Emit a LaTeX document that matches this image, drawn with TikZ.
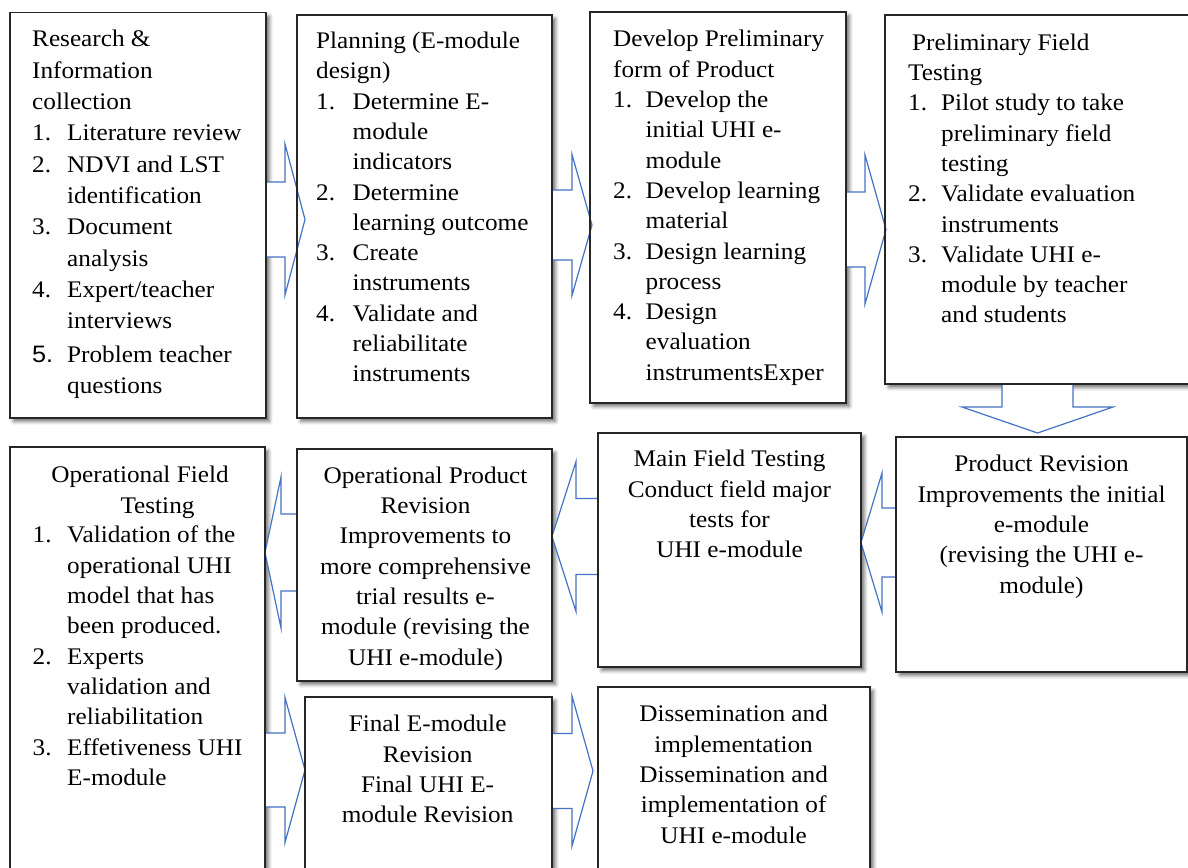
\documentclass[tikz,border=0pt]{standalone}
\usepackage{fontspec}
\setmainfont{Liberation Serif}[FakeStretch=1.06]
\newfontfamily\sansfive{Liberation Sans}[FakeStretch=1.06]
\usetikzlibrary{shadows.blur,calc}
\definecolor{arrowblue}{HTML}{4472C4}
\definecolor{boxline}{HTML}{262626}
\newcommand\itm[3][35pt]{\strut\makebox[#1][l]{#2}#3}
\newcommand\cnt[2][35pt]{\strut\hspace*{#1}#2}
% horizontal block arrow: from, to, tip offset, neck x, centre y, shaft half, head half
\newcommand\harrow[7]{%
  \filldraw[blockarrow] let \p1=(#1), \p2=(#2) in
    (\x1,{-(#5-#6)*1pt}) -- (#4pt,{-(#5-#6)*1pt}) -- (#4pt,{-(#5-#7)*1pt})
    -- ({\x2+#3pt},{-#5*1pt}) -- (#4pt,{-(#5+#7)*1pt}) -- (#4pt,{-(#5+#6)*1pt})
    -- (\x1,{-(#5+#6)*1pt});}
% vertical block arrow: from, to, tip offset, neck y, centre x, shaft half, head half
\newcommand\varrow[7]{%
  \filldraw[blockarrow] let \p1=(#1), \p2=(#2) in
    ({(#5-#6)*1pt},\y1) -- ({(#5-#6)*1pt},{-#4*1pt}) -- ({(#5-#7)*1pt},{-#4*1pt})
    -- ({#5*1pt},{\y2+#3pt}) -- ({(#5+#7)*1pt},{-#4*1pt}) -- ({(#5+#6)*1pt},{-#4*1pt})
    -- ({(#5+#6)*1pt},\y1);}
\begin{document}
\begin{tikzpicture}[x=1pt,y=-1pt,
  box/.style={draw=boxline, line width=1.6pt, fill=white, anchor=north west,
    inner sep=0pt, outer sep=0pt,
    blur shadow={shadow xshift=3.5pt, shadow yshift=-3.5pt, shadow blur radius=3.5pt, shadow opacity=55}},
  boxedge/.style={draw=boxline, line width=1.6pt},
  blockarrow/.style={draw=arrowblue, line width=1.2pt, fill=white, line join=miter},
  txtL/.style={anchor=north west, inner sep=0pt, align=left, font=\fontsize{23.8}{30.3}\selectfont},
  txtC/.style={anchor=north, inner sep=0pt, align=center, font=\fontsize{23.8}{30.3}\selectfont},
]
\useasboundingbox (0,0) rectangle (1188,867);

% ---------- boxes ----------
\node[box, minimum width=256pt, minimum height=405.5pt] (b1) at (10,12.5) {};
\node[box, minimum width=255pt, minimum height=403pt] (b2) at (297,15) {};
\node[box, minimum width=256pt, minimum height=391pt] (b3) at (590,12) {};
\node[box, minimum width=310pt, minimum height=369pt] (b4) at (885,15) {};
\node[box, minimum width=291pt, minimum height=235pt] (pr) at (896,437) {};
\node[box, minimum width=263pt, minimum height=234pt] (mft) at (598,433) {};
\node[box, minimum width=255pt, minimum height=232pt] (opr) at (297,449) {};
\node[box, minimum width=255pt, minimum height=440pt] (oft) at (10,447) {};
\node[box, minimum width=247pt, minimum height=200pt] (fin) at (305,697) {};
\node[box, minimum width=272pt, minimum height=200pt] (dis) at (598,687) {};

% ---------- block arrows ----------
\harrow{b1.east}{b2.west}{8}{285}{219.5}{37.5}{75.5}
\harrow{b2.east}{b3.west}{2}{572}{225}{35}{70.5}
\harrow{b3.east}{b4.west}{1}{865}{229.5}{37.5}{74.5}
\varrow{b4.south}{pr.north}{4}{407}{1037.5}{35.5}{75.5}
\harrow{pr.west}{mft.east}{0}{882}{542.5}{34.5}{69.5}
\harrow{mft.west}{opr.east}{0}{576}{536.5}{38}{75}
\harrow{opr.west}{oft.east}{0}{281}{552.5}{38.5}{75.5}
\harrow{oft.east}{fin.west}{0}{285}{770}{37}{72.5}
\harrow{fin.east}{dis.west}{-5}{572}{771}{37.5}{75}

% ---------- box borders on top ----------
\foreach \n in {b1,b2,b3,b4,pr,mft,opr,oft,fin,dis}
  \draw[boxedge] (\n.north west) rectangle (\n.south east);

% ---------- texts ----------
\node[txtL, font=\fontsize{23.8}{31.3}\selectfont] (t1) at (32,24.8) {%
\strut Research \&\\
\strut Information\\
\strut collection\\
\itm{1.}{Literature review}\\
\itm{2.}{NDVI and LST}\\
\cnt{identification}\\
\itm{3.}{Document}\\
\cnt{analysis}\\
\itm{4.}{Expert/teacher}\\
\cnt{interviews}\\[2.7pt]
\itm{\sansfive 5.}{Problem teacher}\\
\cnt{questions}};

\node[txtL] (t2) at (316,27.1) {%
\strut Planning (E-module\\
\strut design)\\
\itm[36.5pt]{1.}{Determine E-}\\
\cnt[36.5pt]{module}\\
\cnt[36.5pt]{indicators}\\
\itm[36.5pt]{2.}{Determine}\\
\cnt[36.5pt]{learning outcome}\\
\itm[36.5pt]{3.}{Create}\\
\cnt[36.5pt]{instruments}\\
\itm[36.5pt]{4.}{Validate and}\\
\cnt[36.5pt]{reliabilitate}\\
\cnt[36.5pt]{instruments}};

\node[txtL] (t3) at (613,25.5) {%
\strut Develop Preliminary\\
\strut form of Product\\
\itm[32.5pt]{1.}{Develop the}\\
\cnt[32.5pt]{initial UHI e-}\\
\cnt[32.5pt]{module}\\
\itm[32.5pt]{2.}{Develop learning}\\
\cnt[32.5pt]{material}\\
\itm[32.5pt]{3.}{Design learning}\\
\cnt[32.5pt]{process}\\
\itm[32.5pt]{4.}{Design}\\
\cnt[32.5pt]{evaluation}\\
\cnt[32.5pt]{instrumentsExper}};

\node[txtL] (t4) at (908,28.8) {%
\strut\hspace*{4pt}Preliminary Field\\
\strut Testing\\
\itm[33pt]{1.}{Pilot study to take}\\
\cnt[33pt]{preliminary field}\\
\cnt[33pt]{testing}\\
\itm[33pt]{2.}{Validate evaluation}\\
\cnt[33pt]{instruments}\\
\itm[33pt]{3.}{Validate UHI e-}\\
\cnt[33pt]{module by teacher}\\
\cnt[33pt]{and students}};

\node[txtC] (t5) at (140,461.5) {%
\strut Operational Field\\
\strut\hspace*{35pt}Testing};
\node[txtL] (t6) at (32.5,521.5) {%
\itm[34.5pt]{1.}{Validation of the}\\
\cnt[34.5pt]{operational UHI}\\
\cnt[34.5pt]{model that has}\\
\cnt[34.5pt]{been produced.}\\
\itm[34.5pt]{2.}{Experts}\\
\cnt[34.5pt]{validation and}\\
\cnt[34.5pt]{reliabilitation}\\
\itm[34.5pt]{3.}{Effetiveness UHI}\\
\cnt[34.5pt]{E-module}};

\node[txtC] (t7) at (425.5,461.8) {%
\strut Operational Product\\
\strut Revision\\
\strut Improvements to\\
\strut more comprehensive\\
\strut trial results e-\\
\strut module (revising the\\
\strut UHI e-module)};

\node[txtC] (t8) at (729.5,445.5) {%
\strut Main Field Testing\\
\strut Conduct field major\\
\strut tests for\\
\strut UHI e-module};

\node[txtC] (t9) at (1041.5,450.5) {%
\strut Product Revision\\
\strut Improvements the initial\\
\strut e-module\\
\strut (revising the UHI e-\\
\strut module)};

\node[txtC] (t10) at (427.6,710.5) {%
\strut Final E-module\\
\strut Revision\\
\strut Final UHI E-\\
\strut module Revision};

\node[txtC] (t11) at (733.6,700.5) {%
\strut Dissemination and\\
\strut implementation\\
\strut Dissemination and\\
\strut implementation of\\
\strut UHI e-module};
\end{tikzpicture}
\end{document}
